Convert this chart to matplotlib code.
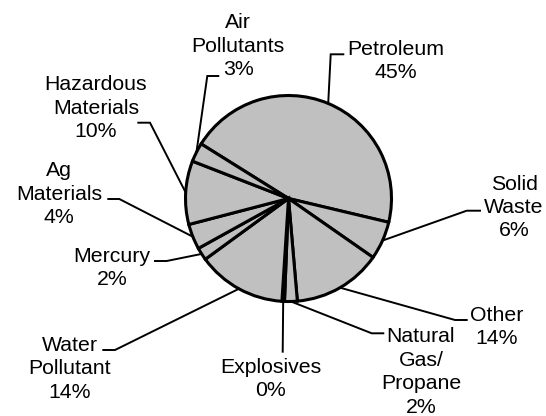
import numpy as np
import matplotlib
matplotlib.use("Agg")
import matplotlib.pyplot as plt

plt.rcParams['font.family'] = ['Liberation Sans', 'DejaVu Sans']

# ---- data ----
categories = ["Petroleum", "Solid\nWaste", "Other", "Natural\nGas/\nPropane", "Explosives",
              "Water\nPollutant", "Mercury", "Ag\nMaterials", "Hazardous\nMaterials", "Air\nPollutants"]
values = [45, 6, 14, 2, 0.4, 14, 2, 4, 10, 3]
pct_labels = ["45%", "6%", "14%", "2%", "0%", "14%", "2%", "4%", "10%", "3%"]

# ---- layout (pixel coordinates, y from top) ----
W, H = 546, 416
pie_center_px = (288.5, 198.5)
pie_radius_px = 103
text_pos = [(396, 61), (514, 207.5), (497, 327), (421, 372), (271, 379),
            (70, 369), (112, 268), (59, 194), (96, 108), (238, 46)]
elbow_pos = [(330.7, 54.3), (466.7, 210.7), (455, 320), (371.7, 333.3), (282.7, 351.7),
             (115, 350), (166.7, 261), (119.3, 199), (150, 122.7), (207.3, 76)]
end_pos = [(343.3, 54.3), (480, 210.7), (466.7, 320), (383.3, 333.3), (282.7, 351.7),
           (103.3, 350), (155, 261), (108.3, 199), (138.3, 122.7), (218.3, 76)]

fig = plt.figure(figsize=(W / 100, H / 100), dpi=100)
ax = fig.add_axes([0, 0, 1, 1])

wedges, _ = ax.pie(values, center=(pie_center_px[0], H - pie_center_px[1]),
                   radius=pie_radius_px, startangle=148, counterclock=False,
                   colors=['#c0c0c0'] * len(values),
                   wedgeprops=dict(edgecolor='black', linewidth=2.2, joinstyle='miter'))

for w, lab, pct, tp, ep, nd in zip(wedges, categories, pct_labels, text_pos, elbow_pos, end_pos):
    mid = np.deg2rad((w.theta1 + w.theta2) / 2)
    sx = w.center[0] + w.r * np.cos(mid)
    sy = w.center[1] + w.r * np.sin(mid)
    ax.plot([sx, ep[0], nd[0]], [sy, H - ep[1], H - nd[1]], color='black', lw=1.4,
            solid_joinstyle='miter', zorder=1)
    ax.text(tp[0], H - tp[1], f"{lab}\n{pct}", ha='center', va='center',
            multialignment='center', fontsize=15.3, linespacing=1.3, color='black')

ax.set_xlim(0, W)
ax.set_ylim(0, H)
ax.set_aspect('equal')
ax.axis('off')
fig.savefig("out.png", dpi=100)
